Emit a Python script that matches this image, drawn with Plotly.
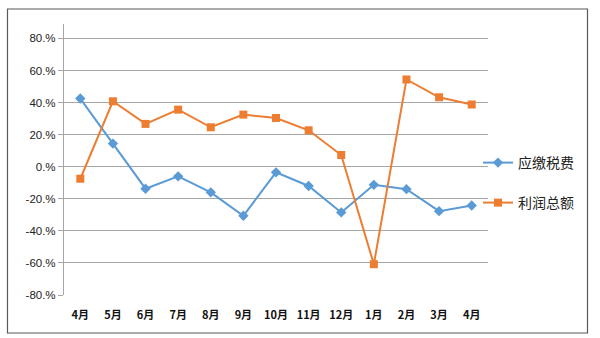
import plotly.graph_objects as go

months = ["4月", "5月", "6月", "7月", "8月", "9月", "10月", "11月", "12月", "1月", "2月", "3月", "4月"]
tax = [0.425, 0.144, -0.137, -0.06, -0.16, -0.306, -0.035, -0.12, -0.285, -0.113, -0.14, -0.277, -0.242]
profit = [-0.075, 0.408, 0.267, 0.356, 0.246, 0.325, 0.304, 0.227, 0.073, -0.608, 0.544, 0.433, 0.388]
ytick_vals = [-0.8, -0.6, -0.4, -0.2, 0.0, 0.2, 0.4, 0.6, 0.8]
ytick_text = ["-80.%", "-60.%", "-40.%", "-20.%", "0.%", "20.%", "40.%", "60.%", "80.%"]

xs = list(range(len(months)))
blue = "#5B9BD5"
orange = "#ED7D31"
font_fam = "Liberation Sans, Noto Sans CJK SC, sans-serif"

fig = go.Figure()
fig.add_trace(go.Scatter(x=xs, y=tax, mode="lines+markers", name="应缴税费",
                         line=dict(color=blue, width=2),
                         marker=dict(symbol="diamond", size=8, color=blue),
                         legend="legend"))
fig.add_trace(go.Scatter(x=xs, y=profit, mode="lines+markers", name="利润总额",
                         line=dict(color=orange, width=2),
                         marker=dict(symbol="square", size=8, color=orange),
                         legend="legend2"))

L, R, T, B = 64, 112, 24, 43
W, H = 600, 338
pw = W - L - R
ph = H - T - B

def px_x(x):
    return (x - L) / pw

def px_y(y):
    return (H - B - y) / ph

fig.add_shape(type="rect", xref="paper", yref="paper",
              x0=px_x(7.5), x1=px_x(587.5), y0=px_y(333), y1=px_y(9),
              line=dict(color="#595959", width=1.2), fillcolor="rgba(0,0,0,0)", layer="below")

leg_common = dict(xanchor="left", yanchor="middle", bgcolor="rgba(0,0,0,0)",
                  font=dict(size=14, color="#222222", family="Noto Sans CJK SC, sans-serif"),
                  itemwidth=30)

fig.update_layout(
    width=W, height=H,
    margin=dict(l=L, r=R, t=T, b=B),
    paper_bgcolor="white", plot_bgcolor="white",
    font=dict(family=font_fam, size=11, color="#222222"),
    showlegend=True,
    legend=dict(x=px_x(478), y=px_y(163), **leg_common),
    legend2=dict(x=px_x(478), y=px_y(203), **leg_common),
    xaxis=dict(range=[-0.5, len(months) - 0.5], tickmode="array", tickvals=xs, ticktext=months,
               showgrid=False, zeroline=False, showline=False, ticks="",
               ticklabelstandoff=12,
               tickfont=dict(size=11, color="#111111", family="Noto Sans CJK SC, sans-serif", weight="bold")),
    yaxis=dict(range=[-0.8, 0.89], tickmode="array", tickvals=ytick_vals, ticktext=ytick_text,
               showgrid=True, gridcolor="#A6A6A6", gridwidth=1.2, zeroline=False,
               showline=True, linecolor="#A6A6A6", linewidth=1.2,
               ticks="outside", ticklen=5, tickcolor="#A6A6A6",
               tickfont=dict(size=11.5, color="#222222")),
)

fig.write_html("out.html")
